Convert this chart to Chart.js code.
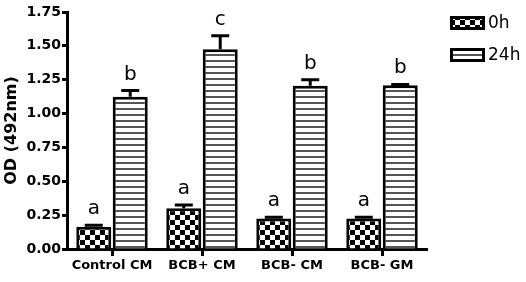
<!DOCTYPE html>
<html>
<head>
<meta charset="utf-8">
<script src="https://cdn.jsdelivr.net/npm/chart.js@4.4.1/dist/chart.umd.min.js"></script>
<style>
  html, body { margin: 0; padding: 0; background: #fff; }
  #chart { display: block; }
</style>
</head>
<body>
<canvas id="chart" width="526" height="282"></canvas>
<script>
// données
const categories = ['Control CM', 'BCB+ CM', 'BCB- CM', 'BCB- GM'];
const values0h = [0.165, 0.30, 0.225, 0.225];
const errors0h = [0.01, 0.025, 0.01, 0.01];
const letters0h = ['a', 'a', 'a', 'a'];
const values24h = [1.125, 1.475, 1.205, 1.21];
const errors24h = [0.045, 0.10, 0.045, 0.005];
const letters24h = ['b', 'c', 'b', 'b'];
const yMin = 0, yMax = 1.75, yStep = 0.25;

const FONT = "'DejaVu Sans', sans-serif";

// motif damier (0h)
function checkerPattern() {
    const c = document.createElement('canvas');
    c.width = 10; c.height = 10;
    const g = c.getContext('2d');
    g.fillStyle = '#fff';
    g.fillRect(0, 0, 10, 10);
    g.fillStyle = '#000';
    g.fillRect(0, 0, 5, 5);
    g.fillRect(5, 5, 5, 5);
    return g.createPattern(c, 'repeat');
}

// motif lignes horizontales (24h)
function stripePattern() {
    const c = document.createElement('canvas');
    c.width = 6; c.height = 6;
    const g = c.getContext('2d');
    g.fillStyle = '#fff';
    g.fillRect(0, 0, 6, 6);
    g.fillStyle = '#555';
    g.fillRect(0, 0, 6, 2);
    return g.createPattern(c, 'repeat');
}

// barres d'erreur + lettres de significativité
const errorBarsPlugin = {
    id: 'errorBars',
    afterDatasetsDraw(chart) {
        const ctx = chart.ctx;
        const y = chart.scales.y;
        ctx.save();
        chart.data.datasets.forEach((ds, i) => {
            const meta = chart.getDatasetMeta(i);
            meta.data.forEach((bar, j) => {
                const top = y.getPixelForValue(ds.data[j]);
                const errTop = y.getPixelForValue(ds.data[j] + ds.errors[j]);
                ctx.strokeStyle = '#000';
                ctx.lineWidth = 3;
                ctx.beginPath();
                ctx.moveTo(bar.x, top);
                ctx.lineTo(bar.x, errTop);
                ctx.moveTo(bar.x - 9, errTop);
                ctx.lineTo(bar.x + 9, errTop);
                ctx.stroke();

                ctx.fillStyle = '#000';
                ctx.font = '20px ' + FONT;
                ctx.textAlign = 'center';
                ctx.textBaseline = 'alphabetic';
                ctx.fillText(ds.letters[j], bar.x, errTop - 11);
            });
        });
        ctx.restore();
    }
};

// légende à droite
const sideLegendPlugin = {
    id: 'sideLegend',
    afterDraw(chart) {
        const ctx = chart.ctx;
        const area = chart.chartArea;
        const x = area.right + 23;
        let yPos = area.top + 4;
        ctx.save();
        chart.data.datasets.forEach(ds => {
            ctx.fillStyle = ds.backgroundColor;
            ctx.fillRect(x, yPos, 35, 14);
            ctx.strokeStyle = '#000';
            ctx.lineWidth = 3;
            ctx.strokeRect(x + 1.5, yPos + 1.5, 32, 11);
            ctx.fillStyle = '#000';
            ctx.font = '17px ' + FONT;
            ctx.textAlign = 'left';
            ctx.textBaseline = 'middle';
            ctx.fillText(ds.label, x + 38, yPos + 8);
            yPos += 32;
        });
        ctx.restore();
    }
};

new Chart(document.getElementById('chart'), {
    type: 'bar',
    data: {
        labels: categories,
        datasets: [
            {
                label: '0h',
                data: values0h,
                errors: errors0h,
                letters: letters0h,
                backgroundColor: checkerPattern(),
                borderColor: '#000',
                borderWidth: 3,
                categoryPercentage: 0.81,
                barPercentage: 0.96
            },
            {
                label: '24h',
                data: values24h,
                errors: errors24h,
                letters: letters24h,
                backgroundColor: stripePattern(),
                borderColor: '#000',
                borderWidth: 3,
                categoryPercentage: 0.81,
                barPercentage: 0.96
            }
        ]
    },
    options: {
        responsive: false,
        animation: false,
        layout: { padding: { top: 12, right: 99, left: 0, bottom: 0 } },
        plugins: {
            legend: { display: false },
            tooltip: { enabled: false }
        },
        scales: {
            x: {
                grid: {
                    offset: false,
                    drawOnChartArea: false,
                    drawTicks: true,
                    tickLength: 7,
                    tickWidth: 3,
                    tickColor: '#000'
                },
                border: { display: true, color: '#000', width: 3 },
                ticks: {
                    color: '#000',
                    padding: 2,
                    maxRotation: 0,
                    font: { family: FONT, size: 13, weight: 'bold' }
                },
                afterFit(scale) { scale.height = 33; }
            },
            y: {
                min: yMin,
                max: yMax,
                grid: {
                    drawOnChartArea: false,
                    drawTicks: true,
                    tickLength: 5,
                    tickWidth: 3,
                    tickColor: '#000'
                },
                border: { display: true, color: '#000', width: 3 },
                ticks: {
                    stepSize: yStep,
                    color: '#000',
                    padding: 1,
                    font: { family: FONT, size: 14, weight: 'bold' },
                    callback: v => v.toFixed(2)
                },
                title: {
                    display: true,
                    text: 'OD (492nm)',
                    color: '#000',
                    padding: { top: 2, bottom: 0 },
                    font: { family: FONT, size: 16, weight: 'bold' }
                },
                afterFit(scale) { scale.width = 67; }
            }
        }
    },
    plugins: [errorBarsPlugin, sideLegendPlugin]
});
</script>
</body>
</html>
